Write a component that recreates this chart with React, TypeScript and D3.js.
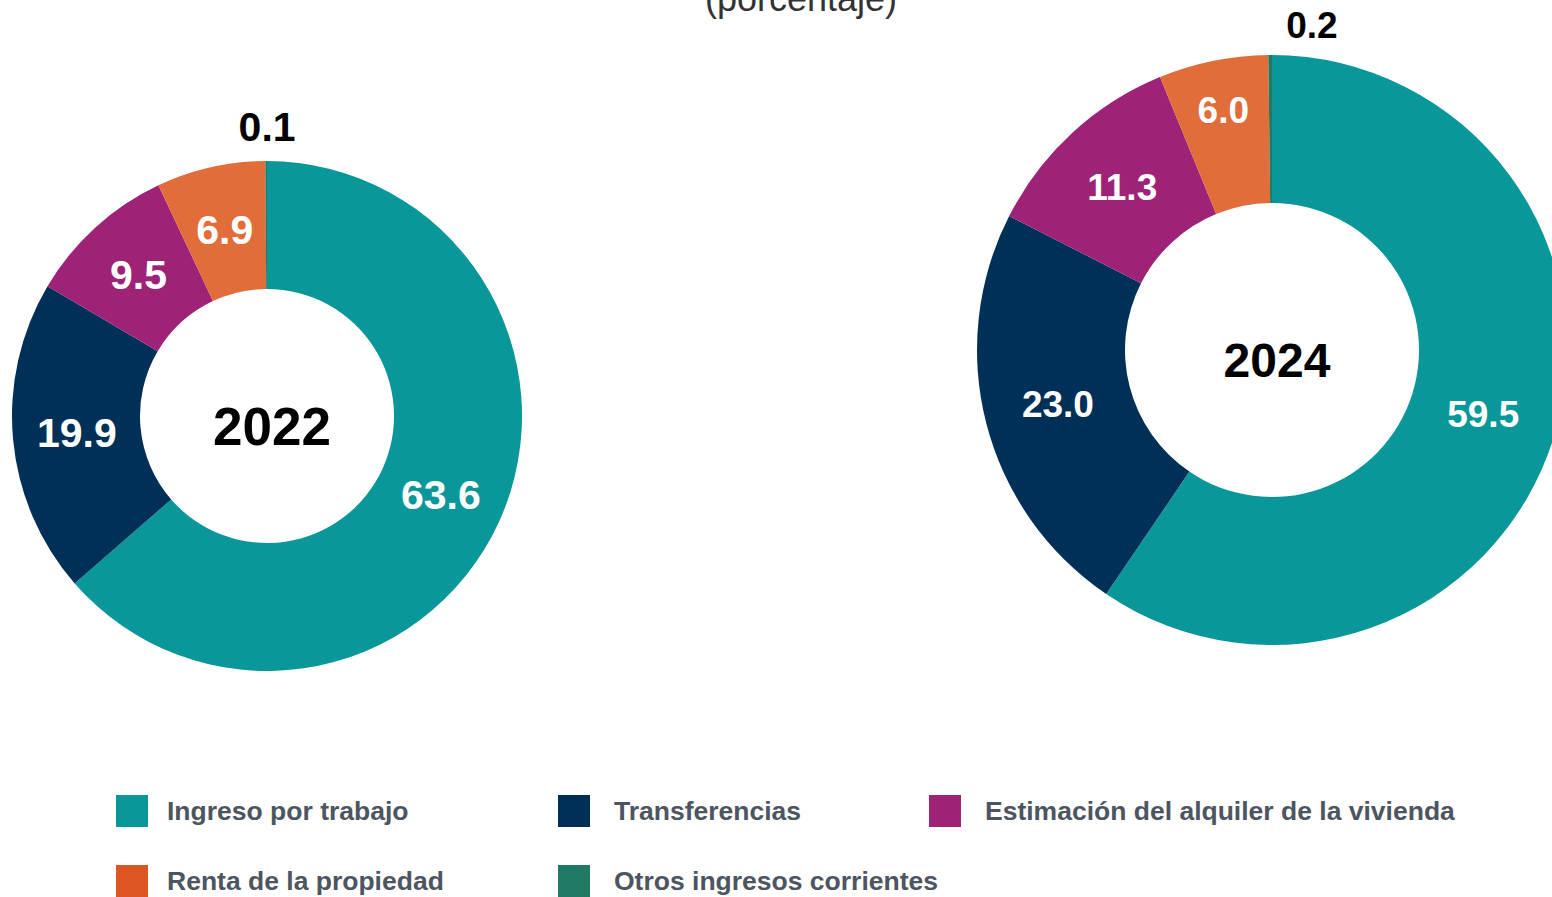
import React from 'react';
import * as d3 from 'd3';

// categories and values
const categories = [
  'Ingreso por trabajo',
  'Transferencias',
  'Estimación del alquiler de la vivienda',
  'Renta de la propiedad',
  'Otros ingresos corrientes',
];
const values2022 = [63.6, 19.9, 9.5, 6.9, 0.1];
const values2024 = [59.5, 23.0, 11.3, 6.0, 0.2];
const years = ['2022', '2024'];

const sliceColors = ['#0a979a', '#003057', '#9e2376', '#e16d3a', '#217a64'];
const legendColors = ['#0a979a', '#003057', '#9e2376', '#dc5623', '#217a64'];

const FONT = '"Liberation Sans", Arial, Helvetica, sans-serif';

type DonutProps = {
  values: number[];
  year: string;
  cx: number;
  cy: number;
  outer: number;
  inner: number;
  labelSize: number;
  yearSize: number;
  smallDx: number;
  smallGap: number;
  push?: Record<number, number>; // extra radial offset for a crowded label
};

const Donut = ({ values, year, cx, cy, outer, inner, labelSize, yearSize, smallDx, smallGap, push = {} }: DonutProps) => {
  const pie = d3.pie<number>().sort(null).value((d) => d);
  const arcs = pie(values);
  const arc = d3.arc<d3.PieArcDatum<number>>().innerRadius(inner).outerRadius(outer);
  const outerArc = d3
    .arc<d3.PieArcDatum<number>>()
    .innerRadius(outer + smallGap)
    .outerRadius(outer + smallGap);

  return (
    <g transform={`translate(${cx},${cy})`}>
      {arcs.map((a, i) => (
        <path key={i} d={arc(a) || ''} fill={sliceColors[i]} />
      ))}
      {arcs.map((a, i) => {
        const small = a.value < 1;
        let [x, y] = small ? outerArc.centroid(a) : arc.centroid(a);
        if (push[i]) {
          const r = Math.hypot(x, y);
          x = (x * (r + push[i])) / r;
          y = (y * (r + push[i])) / r;
        }
        return (
          <text
            key={'l' + i}
            x={small ? x + smallDx : x}
            y={y}
            textAnchor="middle"
            dominantBaseline="central"
            fontFamily={FONT}
            fontWeight="bold"
            fontSize={labelSize}
            fill={small ? '#000' : '#fff'}
          >
            {a.value.toFixed(1)}
          </text>
        );
      })}
      <text
        x={5}
        y={10}
        textAnchor="middle"
        dominantBaseline="central"
        fontFamily={FONT}
        fontWeight="bold"
        fontSize={yearSize}
        fill="#000"
      >
        {year}
      </text>
    </g>
  );
};

const App = () => {
  const legendCols = [116, 558, 929];
  const legendRows = [795, 865];

  return (
    <svg
      width={1552}
      height={897}
      style={{ position: 'absolute', left: 0, top: 0, background: '#fff' }}
    >
      <text
        x={801}
        y={11}
        textAnchor="middle"
        fontFamily={FONT}
        fontSize={36}
        fill="#333"
      >
        (porcentaje)
      </text>

      <Donut
        values={values2022}
        year={years[0]}
        cx={267}
        cy={416}
        outer={255}
        inner={127}
        labelSize={41}
        yearSize={53}
        smallDx={1}
        smallGap={34}
      />
      <Donut
        values={values2024}
        year={years[1]}
        cx={1272}
        cy={350}
        outer={295}
        inner={147}
        labelSize={37}
        yearSize={48}
        smallDx={42}
        smallGap={30}
        push={{ 3: 23 }}
      />

      {categories.map((c, i) => {
        const x = legendCols[i % 3];
        const y = legendRows[Math.floor(i / 3)];
        return (
          <g key={c} transform={`translate(${x},${y})`}>
            <rect width={32} height={32} fill={legendColors[i]} />
            <text
              x={i % 3 === 0 ? 51 : 56}
              y={16}
              dominantBaseline="central"
              fontFamily={FONT}
              fontWeight="bold"
              fontSize={26.5}
              fill="#4d5560"
            >
              {c}
            </text>
          </g>
        );
      })}
    </svg>
  );
};

export default App;
